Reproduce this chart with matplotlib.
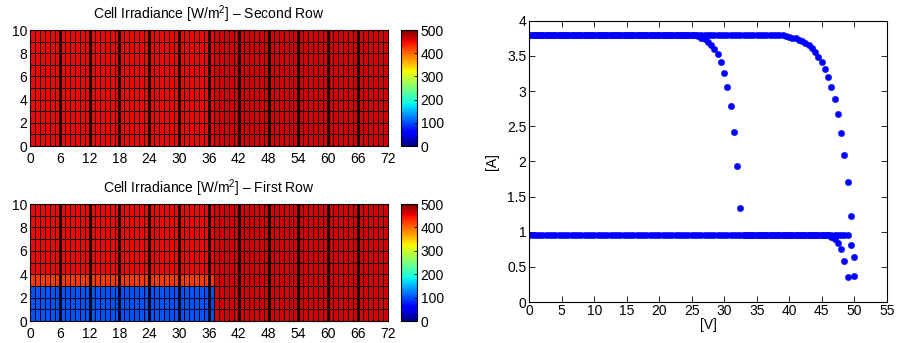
import numpy as np
import matplotlib
matplotlib.use('Agg')
import matplotlib.pyplot as plt
from matplotlib.ticker import FuncFormatter

plt.rcParams['font.family'] = ['Liberation Sans', 'DejaVu Sans']
plt.rcParams['font.size'] = 10
plt.rcParams['mathtext.fontset'] = 'custom'
plt.rcParams['mathtext.rm'] = 'Liberation Sans'

# ---- irradiance maps (10 rows x 72 cells, modules of 6 columns)
n_rows, n_cols = 10, 72
module_width = 6
split_col = 37          # first column of the right-hand part
sun_left = 450          # W/m^2
sun_right = 461
shade_dark = 105        # shaded cells, first row
shade_edge = 425        # half-shaded cell row
shade_rows = 3

second_row = np.full((n_rows, n_cols), sun_right, dtype=float)
second_row[:, :split_col] = sun_left

first_row = second_row.copy()
first_row[:shade_rows, :split_col] = shade_dark
first_row[shade_rows, :split_col] = shade_edge

# ---- I-V points (0.5 V sweep)
volts = [
    0.0, 0.5, 1.0, 1.5, 2.0, 2.5, 3.0, 3.5, 4.0, 4.5,
    5.0, 5.5, 6.0, 6.5, 7.0, 7.5, 8.0, 8.5, 9.0, 9.5,
    10.0, 10.5, 11.0, 11.5, 12.0, 12.5, 13.0, 13.5, 14.0, 14.5,
    15.0, 15.5, 16.0, 16.5, 17.0, 17.5, 18.0, 18.5, 19.0, 19.5,
    20.0, 20.5, 21.0, 21.5, 22.0, 22.5, 23.0, 23.5, 24.0, 24.5,
    25.0, 25.5, 26.0, 26.5, 27.0, 27.5, 28.0, 28.5, 29.0, 29.5,
    30.0, 30.5, 31.0, 31.5, 32.0, 32.5, 33.0, 33.5, 34.0, 34.5,
    35.0, 35.5, 36.0, 36.5, 37.0, 37.5, 38.0, 38.5, 39.0, 39.5,
    40.0, 40.5, 41.0, 41.5, 42.0, 42.5, 43.0, 43.5, 44.0, 44.5,
    45.0, 45.5, 46.0, 46.5, 47.0, 47.5, 48.0, 48.5, 49.0, 49.5,
    50.0,
]

# unshaded string
amps_clear = [3.80] * 77 + [
    3.79, 3.79, 3.78, 3.77, 3.76, 3.75, 3.73, 3.71, 3.68, 3.65,
    3.61, 3.55, 3.48, 3.41, 3.32, 3.20, 3.06, 2.89, 2.67, 2.41,
    2.09, 1.70, 1.22, 0.64,
]

# partially shaded string (bypass knee near 30 V)
amps_shaded = [3.80] * 51 + [
    3.79, 3.78, 3.76, 3.74, 3.70, 3.66, 3.60, 3.52, 3.41, 3.26,
    3.06, 2.79, 2.42, 1.94, 1.33,
] + [0.95] * 27 + [0.93, 0.89, 0.84, 0.75, 0.59, 0.35]

# low-current string
amps_low = [0.95] * 99 + [0.81, 0.37]

# ---- figure
fig = plt.figure(figsize=(9.06, 3.43), dpi=100)

ax_top = fig.add_axes([0.0331, 0.5743, 0.3951, 0.3382])
cax_top = fig.add_axes([0.4426, 0.5743, 0.0177, 0.3382])
ax_bot = fig.add_axes([0.0331, 0.0641, 0.3951, 0.3410])
cax_bot = fig.add_axes([0.4426, 0.0641, 0.0177, 0.3410])
ax_iv = fig.add_axes([0.5842, 0.1195, 0.3945, 0.8201])


def draw_irradiance(ax, cax, irr, title):
    mesh = ax.pcolormesh(np.arange(n_cols + 1), np.arange(n_rows + 1), irr,
                         cmap='jet', vmin=0, vmax=500,
                         edgecolors='k', linewidth=0.6)
    # module borders
    for x in range(module_width, n_cols, module_width):
        ax.axvline(x, color='k', lw=2.0)
    ax.set_xlim(0, n_cols)
    ax.set_ylim(0, n_rows)
    ax.set_xticks(range(0, n_cols + 1, module_width))
    ax.set_yticks(range(0, n_rows + 1, 2))
    ax.tick_params(axis='x', length=0, pad=4)
    ax.tick_params(axis='y', length=0, pad=2)
    ax.set_title(title, fontsize=10, pad=8)
    for s in ax.spines.values():
        s.set_linewidth(0.8)

    cb = fig.colorbar(mesh, cax=cax, ticks=range(0, 501, 100))
    cb.outline.set_linewidth(0.8)
    cax.tick_params(direction='in', length=2, width=0.6, pad=2.5, labelsize=10)


draw_irradiance(ax_top, cax_top, second_row,
                r'Cell Irradiance [W/m$^{\mathrm{2}}$] – Second Row')
draw_irradiance(ax_bot, cax_bot, first_row,
                r'Cell Irradiance [W/m$^{\mathrm{2}}$] – First Row')

# I-V curves
for amps in (amps_low, amps_shaded, amps_clear):
    ax_iv.plot(volts[:len(amps)], amps, 'o', color='#0000ff',
               ms=4.6, mec='#0000ff', mew=0.3)

ax_iv.set_xlim(0, 55)
ax_iv.set_ylim(0, 4)
ax_iv.set_xticks(np.arange(0, 56, 5))
ax_iv.set_yticks(np.arange(0, 4.01, 0.5))
ax_iv.yaxis.set_major_formatter(FuncFormatter(lambda v, p: f'{v:g}'))
ax_iv.tick_params(direction='in', length=4, width=0.6, top=True, right=True)
ax_iv.tick_params(axis='x', pad=1.5)
ax_iv.tick_params(axis='y', pad=2)
for s in ax_iv.spines.values():
    s.set_linewidth(0.8)
ax_iv.set_xlabel('[V]', labelpad=0)
ax_iv.set_ylabel('[A]', labelpad=6)

fig.savefig('out.png', dpi=100)
